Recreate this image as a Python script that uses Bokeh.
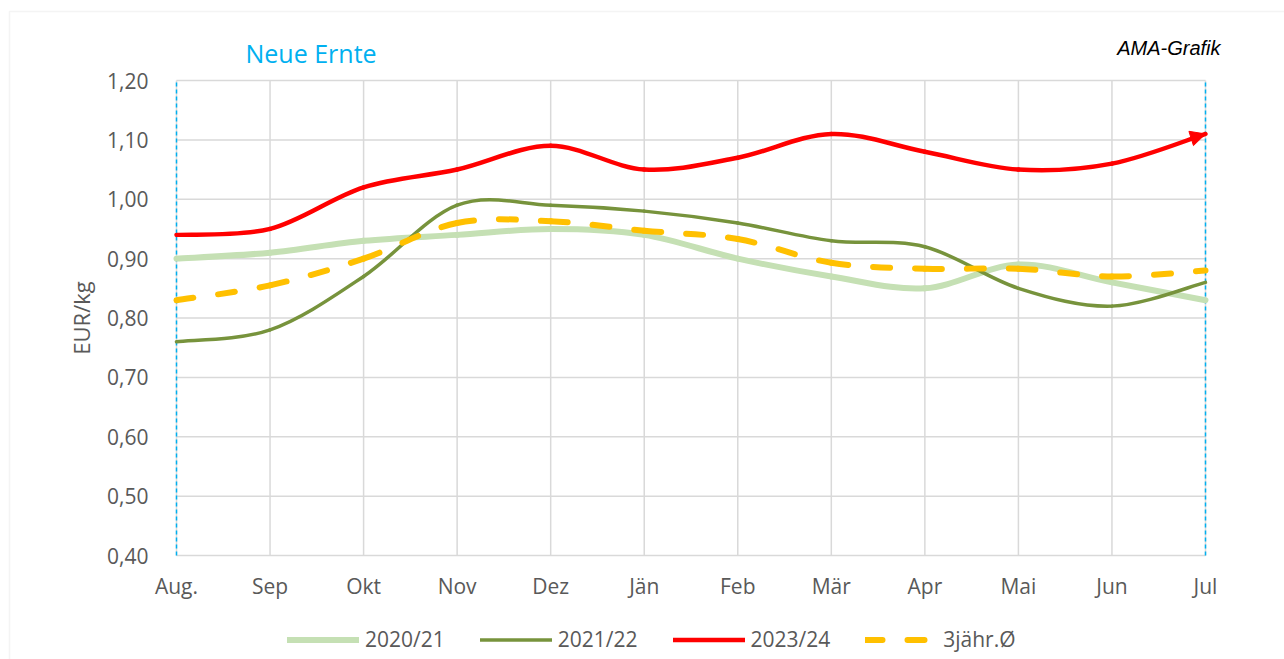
import math
import numpy as np
from bokeh.plotting import figure
from bokeh.models import (Range1d, FixedTicker, Label, Legend, LegendItem,
                          Arrow, NormalHead, ColumnDataSource, BoxAnnotation)
from bokeh.embed import file_html
from bokeh.resources import INLINE

# ---------------- data ----------------
months = ["Aug.", "Sep", "Okt", "Nov", "Dez", "Jän", "Feb", "Mär", "Apr", "Mai", "Jun", "Jul"]
s2020_21 = [0.90, 0.91, 0.93, 0.94, 0.95, 0.94, 0.90, 0.87, 0.85, 0.89, 0.86, 0.83]
s2021_22 = [0.76, 0.78, 0.87, 0.99, 0.99, 0.98, 0.96, 0.93, 0.92, 0.85, 0.82, 0.86]
s2023_24 = [0.94, 0.95, 1.02, 1.05, 1.09, 1.05, 1.07, 1.11, 1.08, 1.05, 1.06, 1.11]
avg_3y = [0.83, 0.855, 0.90, 0.96, 0.963, 0.947, 0.933, 0.893, 0.883, 0.883, 0.87, 0.88]
series_names = ["2020/21", "2021/22", "2023/24", "3jähr.Ø"]
y_ticks = [0.4, 0.5, 0.6, 0.7, 0.8, 0.9, 1.0, 1.1, 1.2]
y_tick_labels = ["0,40", "0,50", "0,60", "0,70", "0,80", "0,90", "1,00", "1,10", "1,20"]

FONT = "Open Sans"
TXT = "#595959"
GRID = "#d9d9d9"

x_idx = list(range(len(months)))
x_lo, x_hi = x_idx[0], x_idx[-1]
y_lo, y_hi = y_ticks[0], y_ticks[-1]

# ---------------- layout geometry (pixels) ----------------
W, H = 1284, 659
PL, PR, PT, PB = 176, 1205, 80, 555          # plot area on the canvas
ppx = (PR - PL) / (x_hi - x_lo)
ppy = (PB - PT) / (y_hi - y_lo)
# the frame covers the whole canvas; axes are pinned with fixed_location
x_range = Range1d(x_lo - PL / ppx, x_hi + (W - PR) / ppx)
y_range = Range1d(y_lo - (H - PB) / ppy, y_hi + PT / ppy)

p = figure(width=W, height=H, output_backend="svg", toolbar_location=None,
           x_range=x_range, y_range=y_range,
           min_border=0, min_border_left=0, min_border_right=0,
           min_border_top=0, min_border_bottom=0)
p.outline_line_color = None
p.background_fill_color = "white"
p.border_fill_color = "white"
p.xgrid.visible = False
p.ygrid.visible = False

# axes
xa = p.xaxis[0]
xa.fixed_location = y_lo
xa.bounds = (x_lo, x_hi)
xa.ticker = FixedTicker(ticks=x_idx)
xa.major_label_overrides = {i: m for i, m in zip(x_idx, months)}
xa.axis_line_color = None
xa.major_tick_line_color = None
xa.minor_tick_line_color = None
xa.major_tick_out = 0
xa.major_tick_in = 0
xa.major_label_standoff = 16
xa.major_label_text_font = FONT
xa.major_label_text_font_size = "21px"
xa.major_label_text_color = TXT

ya = p.yaxis[0]
ya.fixed_location = x_lo
ya.bounds = (y_lo, y_hi)
ya.ticker = FixedTicker(ticks=y_ticks)
ya.major_label_overrides = {t: l for t, l in zip(y_ticks, y_tick_labels)}
ya.axis_line_color = None
ya.major_tick_line_color = None
ya.minor_tick_line_color = None
ya.major_tick_out = 0
ya.major_tick_in = 0
ya.major_label_standoff = 28
ya.major_label_text_font = FONT
ya.major_label_text_font_size = "21px"
ya.major_label_text_color = TXT

# grid lines over the value area only
n_x, n_y = len(x_idx), len(y_ticks)
p.segment(x0=[x_lo] * n_y, y0=y_ticks, x1=[x_hi] * n_y, y1=y_ticks,
          line_color=GRID, line_width=1.5)
p.segment(x0=x_idx, y0=[y_lo] * n_x, x1=x_idx, y1=[y_hi] * n_x,
          line_color=GRID, line_width=1.5)

# "Neue Ernte" markers (dashed blue verticals at first and last month)
edge_x = [x_lo, x_hi]
p.segment(x0=edge_x, y0=[y_lo] * 2, x1=edge_x, y1=[y_hi] * 2,
          line_color="#00B0F0", line_width=1.5, line_dash="4 3")


def smooth_segments(xs, ys):
    """Bezier segments with Catmull-Rom style control points (Excel smoothed line)."""
    P = np.column_stack([np.asarray(xs, float), np.asarray(ys, float)])
    n = len(P)
    rows = {k: [] for k in ("x0", "y0", "x1", "y1", "cx0", "cy0", "cx1", "cy1")}
    for i in range(n - 1):
        prev = P[i - 1] if i > 0 else P[i]
        nxt = P[i + 2] if i + 2 < n else P[i + 1]
        c0 = P[i] + (P[i + 1] - prev) / 6.0
        c1 = P[i + 1] - (nxt - P[i]) / 6.0
        rows["x0"].append(P[i][0]); rows["y0"].append(P[i][1])
        rows["x1"].append(P[i + 1][0]); rows["y1"].append(P[i + 1][1])
        rows["cx0"].append(c0[0]); rows["cy0"].append(c0[1])
        rows["cx1"].append(c1[0]); rows["cy1"].append(c1[1])
    return rows


styles = [
    (s2020_21, "#C5E0B4", 6, "solid"),
    (s2021_22, "#77933C", 3.5, "solid"),
    (s2023_24, "#FF0000", 4.5, "solid"),
    (avg_3y, "#FFC000", 6, "17 25"),
]

renderers = []
red_rows = None
for (vals, color, lw, dash) in styles:
    rows = smooth_segments(x_idx, vals)
    src = ColumnDataSource(rows)
    r = p.bezier(x0="x0", y0="y0", x1="x1", y1="y1", cx0="cx0", cy0="cy0", cx1="cx1", cy1="cy1",
                 source=src, line_color=color, line_width=lw, line_dash=dash,
                 line_cap="round")
    renderers.append(r)
    if color == "#FF0000":
        red_rows = rows

# arrow head at end of 2023/24
p.add_layout(Arrow(end=NormalHead(size=15, fill_color="#FF0000", line_color="#FF0000", line_width=1),
                   x_start=red_rows["cx1"][-1], y_start=red_rows["cy1"][-1],
                   x_end=x_hi, y_end=s2023_24[-1], line_alpha=0))

# texts
p.add_layout(Label(x=x_lo, y=y_hi, x_offset=69, y_offset=28, text="Neue Ernte",
                   text_font=FONT, text_font_size="25px", text_color="#00B0F0",
                   text_align="left", text_baseline="middle"))
p.add_layout(Label(x=x_hi, y=y_hi, x_offset=15, y_offset=33, text="AMA-Grafik",
                   text_font="Liberation Sans", text_font_size="20px", text_font_style="italic",
                   text_color="#000000", text_align="right", text_baseline="middle"))
p.add_layout(Label(x=x_lo, y=(y_lo + y_hi) / 2, x_offset=-96, text="EUR/kg", angle=math.pi / 2,
                   text_font=FONT, text_font_size="22px", text_color=TXT,
                   text_align="center", text_baseline="middle"))

# legend
legend = Legend(items=[LegendItem(label=n, renderers=[r]) for n, r in zip(series_names, renderers)],
                orientation="horizontal", location=(287, 6),
                padding=0, margin=0, spacing=35, label_standoff=6,
                glyph_width=72, glyph_height=25, label_height=25,
                border_line_color=None, background_fill_alpha=0,
                label_text_font=FONT, label_text_font_size="21px", label_text_color=TXT)
p.add_layout(legend)

# outer chart-area border
p.add_layout(BoxAnnotation(left=9, right=1400, top=11, bottom=900,
                           left_units="canvas", right_units="canvas",
                           top_units="canvas", bottom_units="canvas",
                           fill_color=None, fill_alpha=0, line_color=GRID, line_width=1.5))

open("out.html", "w").write(file_html(p, INLINE))
